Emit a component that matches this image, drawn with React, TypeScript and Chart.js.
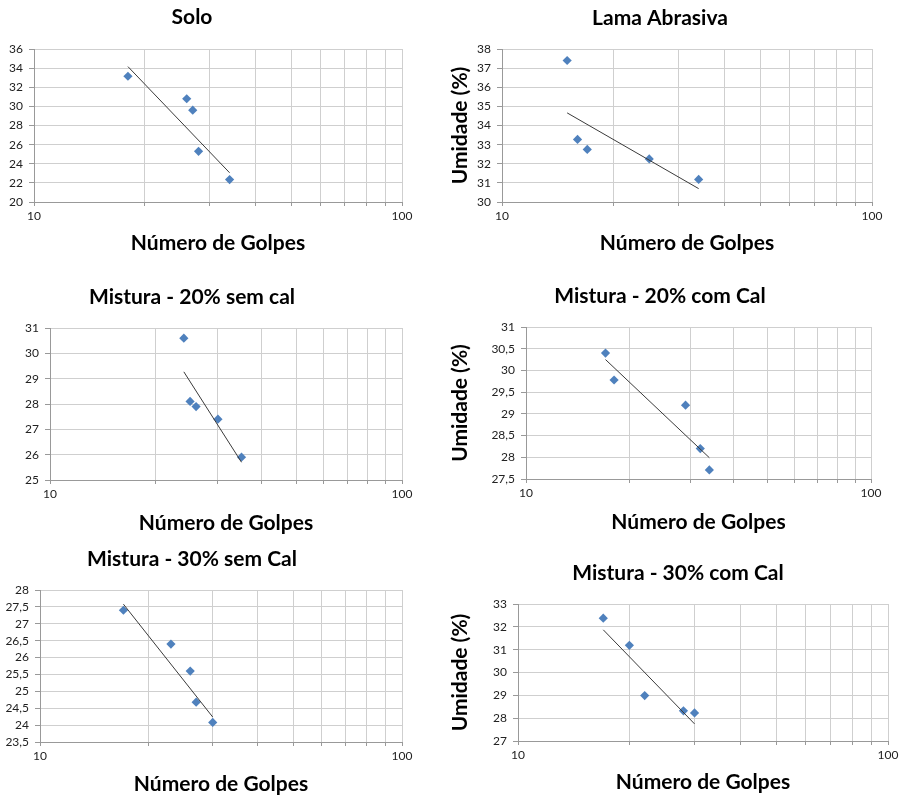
import React, { useEffect, useRef } from 'react';
import { Chart, registerables } from 'chart.js';
Chart.register(...registerables);

// ---------- data ----------
const soloGolpes = [18, 26, 27, 28, 34];
const soloUmidade = [33.15, 30.8, 29.6, 25.3, 22.35];
const soloTrendX = [18, 34];
const soloTrendY = [34.16, 23.06];

const lamaGolpes = [15, 16, 17, 25, 34];
const lamaUmidade = [37.4, 33.27, 32.75, 32.25, 31.18];
const lamaTrendX = [15, 34];
const lamaTrendY = [34.66, 30.7];

const m20SemGolpes = [24, 25, 26, 30, 35];
const m20SemUmidade = [30.6, 28.1, 27.9, 27.4, 25.9];
const m20SemTrendX = [24, 35];
const m20SemTrendY = [29.27, 25.7];

const m20ComGolpes = [17, 18, 29, 32, 34];
const m20ComUmidade = [30.4, 29.78, 29.2, 28.2, 27.71];
const m20ComTrendX = [17, 34];
const m20ComTrendY = [30.25, 27.99];

const m30SemGolpes = [17, 23, 26, 27, 30];
const m30SemUmidade = [27.4, 26.4, 25.6, 24.68, 24.08];
const m30SemTrendX = [17, 30];
const m30SemTrendY = [27.58, 24.24];

const m30ComGolpes = [17, 20, 22, 28, 30];
const m30ComUmidade = [32.38, 31.19, 28.99, 28.32, 28.23];
const m30ComTrendX = [17, 30];
const m30ComTrendY = [31.87, 27.75];

const xGridTicks = [10, 20, 30, 40, 50, 60, 70, 80, 90, 100];
const xTickLabels = [10, 100];
const xAxisTitle = 'Número de Golpes';
const yAxisTitle = 'Umidade (%)';

// ---------- layout (positions / styles) ----------
type Cfg = {
  title: string;
  xs: number[];
  ys: number[];
  tx: number[];
  ty: number[];
  yMin: number;
  yMax: number;
  yStep: number;
  yTitle: boolean;
  tcx: number; tcy: number;
  L: number; T: number; R: number; B: number;
  xtcy: number;
  ytcx?: number;
};

const charts: Cfg[] = [
  { title: 'Solo', xs: soloGolpes, ys: soloUmidade, tx: soloTrendX, ty: soloTrendY, yMin: 20, yMax: 36, yStep: 2, yTitle: false,
    tcx: 192, tcy: 18, L: 34, T: 49, R: 402, B: 202, xtcy: 243 },
  { title: 'Lama Abrasiva', xs: lamaGolpes, ys: lamaUmidade, tx: lamaTrendX, ty: lamaTrendY, yMin: 30, yMax: 38, yStep: 1, yTitle: true,
    tcx: 660, tcy: 19, L: 502, T: 49, R: 872, B: 202, xtcy: 243, ytcx: 460 },
  { title: 'Mistura - 20% sem cal', xs: m20SemGolpes, ys: m20SemUmidade, tx: m20SemTrendX, ty: m20SemTrendY, yMin: 25, yMax: 31, yStep: 1, yTitle: false,
    tcx: 192, tcy: 298, L: 50, T: 328, R: 402, B: 480, xtcy: 523 },
  { title: 'Mistura - 20% com Cal', xs: m20ComGolpes, ys: m20ComUmidade, tx: m20ComTrendX, ty: m20ComTrendY, yMin: 27.5, yMax: 31, yStep: 0.5, yTitle: true,
    tcx: 660, tcy: 297, L: 526, T: 327, R: 871, B: 479, xtcy: 522, ytcx: 460 },
  { title: 'Mistura - 30% sem Cal', xs: m30SemGolpes, ys: m30SemUmidade, tx: m30SemTrendX, ty: m30SemTrendY, yMin: 23.5, yMax: 28, yStep: 0.5, yTitle: false,
    tcx: 192, tcy: 560, L: 40, T: 590, R: 402, B: 742, xtcy: 784 },
  { title: 'Mistura - 30% com Cal', xs: m30ComGolpes, ys: m30ComUmidade, tx: m30ComTrendX, ty: m30ComTrendY, yMin: 27, yMax: 33, yStep: 1, yTitle: true,
    tcx: 678, tcy: 574, L: 518, T: 604, R: 888, B: 741, xtcy: 782, ytcx: 460 },
];

const FONT = 'Lato, "Open Sans", "DejaVu Sans", sans-serif';
const TITLE_SIZE = 21;
const LH = TITLE_SIZE * 1.2;
const PR = 14;

function geom(c: Cfg) {
  const spanLeft = Math.round(2 * c.tcx - c.R);
  const cx = c.ytcx !== undefined ? Math.min(spanLeft, Math.floor(c.ytcx - LH / 2 - 4)) : spanLeft;
  const padL = spanLeft - cx;
  const cw = c.R + PR - cx;
  const cy = Math.round(c.tcy - LH / 2);
  const padB = c.T - cy - LH;
  const ch = Math.round(c.xtcy + LH / 2) - cy;
  const xH = cy + ch - c.B;
  const yW = c.L - spanLeft;
  const yTitlePad = c.ytcx !== undefined ? c.ytcx - spanLeft - LH / 2 : 0;
  return { cx, cw, cy, ch, padL, padB, xH, yW, yTitlePad };
}

function ScatterChart({ c }: { c: Cfg }) {
  const ref = useRef<HTMLCanvasElement>(null);
  const g = geom(c);
  useEffect(() => {
    if (!ref.current) return;
    const pts = c.xs.map((x, i) => ({ x, y: c.ys[i] }));
    const trend = c.tx.map((x, i) => ({ x, y: c.ty[i] }));
    const chart = new Chart(ref.current, {
      type: 'scatter',
      data: {
        datasets: [
          {
            label: 'tendência',
            data: trend,
            showLine: true,
            borderColor: '#3a3a3a',
            borderWidth: 1,
            pointRadius: 0,
            fill: false,
          } as any,
          {
            label: 'pontos',
            data: pts,
            pointStyle: 'rectRot',
            pointRadius: 4.6,
            pointBorderWidth: 0,
            backgroundColor: '#4f81bd',
            borderColor: '#4f81bd',
          } as any,
        ],
      },
      options: {
        responsive: false,
        animation: false,
        maintainAspectRatio: false,
        events: [],
        layout: { padding: { left: g.padL, right: PR, top: 0, bottom: 0 } },
        plugins: {
          legend: { display: false },
          tooltip: { enabled: false },
          title: {
            display: true,
            text: c.title,
            color: '#000',
            font: { family: FONT, size: TITLE_SIZE, weight: 'bold', lineHeight: 1.2 },
            padding: { top: 0, bottom: g.padB },
          },
        },
        scales: {
          x: {
            type: 'logarithmic',
            min: 10,
            max: 100,
            afterFit: (s: any) => { s.height = g.xH; },
            afterBuildTicks: (s: any) => { s.ticks = xGridTicks.map((v) => ({ value: v })); },
            ticks: {
              autoSkip: false,
              maxRotation: 0,
              minRotation: 0,
              padding: 3,
              color: '#222',
              font: { family: FONT, size: 12 },
              callback: (v: any) => {
                const n = Number(v);
                return xTickLabels.some((t) => Math.abs(t - n) < 1e-6) ? String(n) : '';
              },
            },
            grid: { color: '#cfcfcf', lineWidth: 1, tickLength: 4, tickColor: '#999' },
            border: { color: '#999', width: 1 },
            title: {
              display: true,
              text: xAxisTitle,
              color: '#000',
              font: { family: FONT, size: TITLE_SIZE, weight: 'bold', lineHeight: 1.2 },
              padding: { top: 0, bottom: 0 },
            },
          },
          y: {
            type: 'linear',
            min: c.yMin,
            max: c.yMax,
            afterFit: (s: any) => { s.width = g.yW; },
            ticks: {
              stepSize: c.yStep,
              autoSkip: false,
              padding: 6,
              color: '#222',
              font: { family: FONT, size: 12 },
              callback: (v: any) => String(Number(v)).replace('.', ','),
            },
            grid: { color: '#cfcfcf', lineWidth: 1, tickLength: 5, tickColor: '#999' },
            border: { color: '#999', width: 1 },
            title: {
              display: c.yTitle,
              text: yAxisTitle,
              color: '#000',
              font: { family: FONT, size: TITLE_SIZE, weight: 'bold', lineHeight: 1.2 },
              padding: { top: g.yTitlePad, bottom: 0 },
            },
          },
        },
      } as any,
    });
    return () => chart.destroy();
  }, []);
  return (
    <canvas
      ref={ref}
      width={g.cw}
      height={g.ch}
      style={{ position: 'absolute', left: g.cx, top: g.cy, width: g.cw, height: g.ch, display: 'block' }}
    />
  );
}

export default function App() {
  return (
    <div style={{ position: 'absolute', left: 0, top: 0, width: 900, height: 798, overflow: 'hidden', background: '#fff' }}>
      {charts.map((c, i) => (
        <ScatterChart key={i} c={c} />
      ))}
    </div>
  );
}
